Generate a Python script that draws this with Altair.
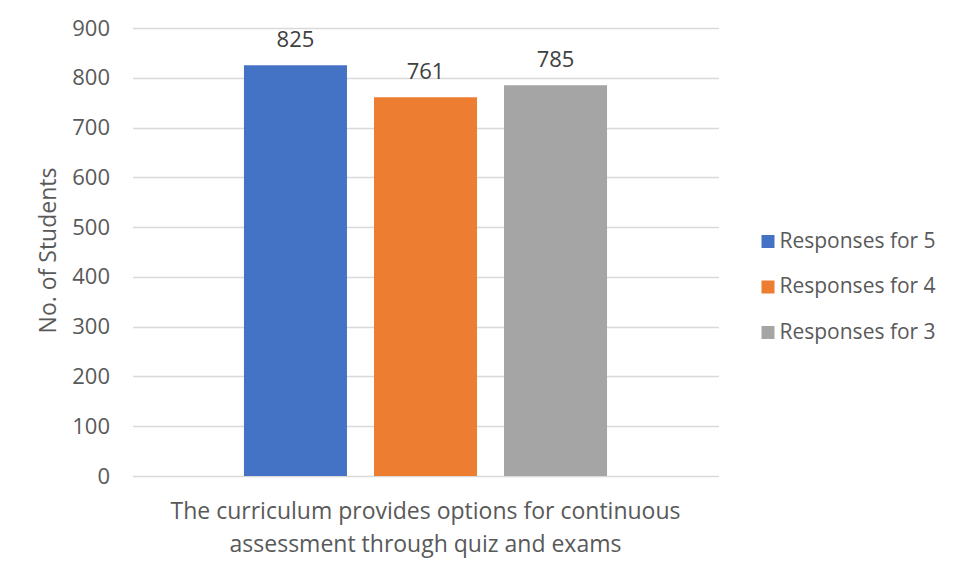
import altair as alt
import pandas as pd

category = ["The curriculum provides options for continuous\nassessment through quiz and exams"]
series = ["Responses for 5", "Responses for 4", "Responses for 3"]
values = [825, 761, 785]
colors = ["#4472C4", "#ED7D31", "#A5A5A5"]
y_ticks = [0, 100, 200, 300, 400, 500, 600, 700, 800, 900]

df = pd.DataFrame({
    "cat": category * len(series),
    "series": series,
    "value": values,
})

FONT = "Open Sans"

x_enc = alt.X("cat:N", title=None,
              scale=alt.Scale(paddingInner=0, paddingOuter=0.307),
              axis=alt.Axis(labelAngle=0, domain=False, ticks=False,
                            labelExpr="split(datum.label, '\\n')",
                            labelFontSize=23, labelColor="#595959", labelFont=FONT,
                            labelPadding=24, labelLineHeight=33, labelBaseline="top",
                            labelLimit=0))
xoff = alt.XOffset("series:N", sort=series,
                   scale=alt.Scale(paddingInner=0.2077, paddingOuter=0))

bars = alt.Chart(df).mark_bar().encode(
    x=x_enc,
    xOffset=xoff,
    y=alt.Y("value:Q", title="No. of Students",
            scale=alt.Scale(domain=[0, 900], nice=False),
            axis=alt.Axis(values=y_ticks, domain=False, ticks=False,
                          gridColor="#d9d9d9", gridWidth=1.3,
                          labelFontSize=22, labelColor="#595959", labelFont=FONT,
                          labelPadding=23,
                          titleFontSize=23, titleColor="#595959", titleFont=FONT,
                          titleFontWeight="normal", titleAngle=270,
                          titleX=-84, titleY=222, titleAlign="center",
                          titleBaseline="middle")),
    color=alt.Color("series:N", sort=series,
                    scale=alt.Scale(domain=series, range=colors),
                    legend=alt.Legend(title=None, orient="none", legendX=625, legendY=203,
                                      symbolType="square", symbolSize=169,
                                      symbolStrokeWidth=0, labelFontSize=21,
                                      labelColor="#595959", labelFont=FONT,
                                      rowPadding=23.5, labelOffset=1)),
)

labels = alt.Chart(df).mark_text(fontSize=22, color="#404040", font=FONT,
                                 baseline="alphabetic", dy=-18).encode(
    x=alt.X("cat:N"),
    xOffset=xoff,
    y=alt.Y("value:Q"),
    text=alt.Text("value:Q"),
)

chart = alt.layer(bars, labels).properties(
    width=586, height=448,
    autosize=alt.AutoSizeParams(type="none"),
    padding={"left": 124.5, "top": 20, "right": 232.5, "bottom": 92},
).configure_view(stroke=None)

chart.save("out.html", embed_options={"renderer": "svg", "actions": False})
